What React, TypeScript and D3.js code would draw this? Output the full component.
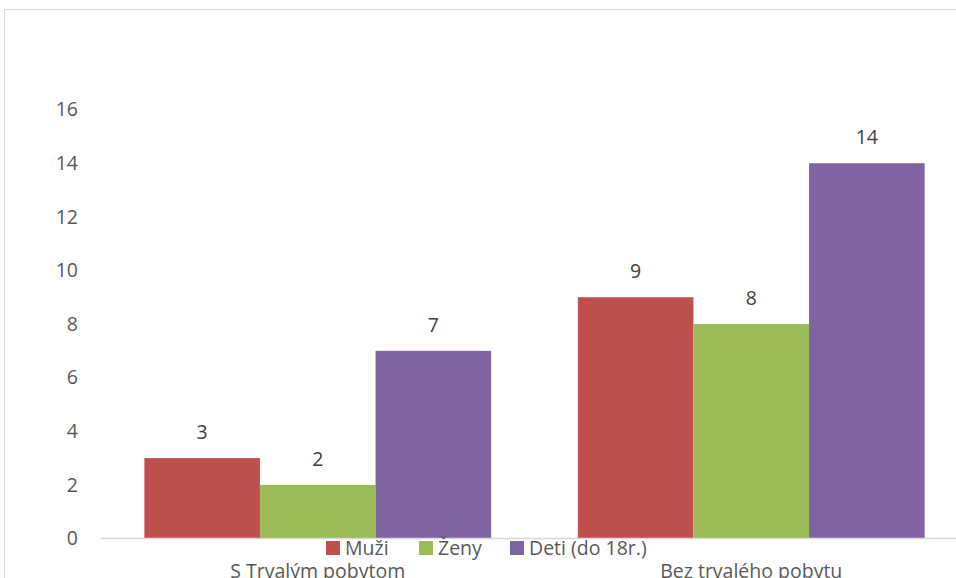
import React, { useEffect, useRef } from "react";
import * as d3 from "d3";

const categories = ["S Trvalým pobytom", "Bez trvalého pobytu"];
const seriesNames = ["Muži", "Ženy", "Deti (do 18r.)"];
const muzi = [3, 9];
const zeny = [2, 8];
const deti = [7, 14];
const yTicks = [0, 2, 4, 6, 8, 10, 12, 14, 16];
const colors = ["#C0504D", "#9BBB59", "#8064A2"];

const width = 956;
const height = 578;
const font = "'Open Sans', 'Noto Sans', sans-serif";

function App() {
  const svgRef = useRef<SVGSVGElement>(null);

  useEffect(() => {
    if (!svgRef.current) return;
    const svg = d3.select(svgRef.current);
    svg.selectAll("*").remove();

    const values = [muzi, zeny, deti];

    // chart area border (runs off the right and bottom)
    svg
      .append("rect")
      .attr("x", 4.5)
      .attr("y", 9.5)
      .attr("width", 1000)
      .attr("height", 700)
      .attr("fill", "white")
      .attr("stroke", "#d9d9d9")
      .attr("stroke-width", 1);

    const plotLeft = 101;
    const bandW = 433.5;
    const x0 = d3
      .scaleBand<string>()
      .domain(categories)
      .range([plotLeft, plotLeft + bandW * categories.length])
      .padding(0);

    // excel style gap width 75%
    const barW = x0.bandwidth() / (seriesNames.length + 0.75);
    const x1 = d3
      .scaleBand<string>()
      .domain(seriesNames)
      .range([barW * 0.375, x0.bandwidth() - barW * 0.375])
      .padding(0);

    const y = d3.scaleLinear().domain([0, 16]).range([538.5, 109.6]);

    // y tick labels
    svg
      .append("g")
      .selectAll("text")
      .data(yTicks)
      .enter()
      .append("text")
      .attr("x", 78)
      .attr("y", (d) => y(d))
      .attr("dy", "0.35em")
      .attr("text-anchor", "end")
      .style("font-family", font)
      .style("font-size", "19.5px")
      .style("fill", "#595959")
      .text((d) => d);

    // bars
    seriesNames.forEach((name, si) => {
      const g = svg.append("g");
      g.selectAll("rect")
        .data(values[si])
        .enter()
        .append("rect")
        .attr("x", (_, i) => (x0(categories[i]) as number) + (x1(name) as number))
        .attr("y", (d) => y(d))
        .attr("width", x1.bandwidth())
        .attr("height", (d) => y(0) - y(d))
        .attr("fill", colors[si]);

      g.selectAll("text")
        .data(values[si])
        .enter()
        .append("text")
        .attr(
          "x",
          (_, i) => (x0(categories[i]) as number) + (x1(name) as number) + x1.bandwidth() / 2
        )
        .attr("y", (d) => y(d) - 19)
        .attr("text-anchor", "middle")
        .style("font-family", font)
        .style("font-size", "19.5px")
        .style("fill", "#404040")
        .text((d) => d);
    });

    // x axis line
    svg
      .append("line")
      .attr("x1", plotLeft)
      .attr("x2", width)
      .attr("y1", y(0))
      .attr("y2", y(0))
      .attr("stroke", "#d9d9d9")
      .attr("stroke-width", 1.5);

    // category labels
    svg
      .append("g")
      .selectAll("text")
      .data(categories)
      .enter()
      .append("text")
      .attr("x", (d) => (x0(d) as number) + x0.bandwidth() / 2)
      .attr("y", 578)
      .attr("text-anchor", "middle")
      .style("font-family", font)
      .style("font-size", "19.5px")
      .style("fill", "#595959")
      .text((d) => d);

    // legend
    const legendX = [326, 419, 510];
    seriesNames.forEach((name, i) => {
      const lg = svg.append("g").attr("transform", `translate(${legendX[i]}, 541)`);
      lg.append("rect")
        .attr("width", 14)
        .attr("height", 14)
        .attr("fill", colors[i]);
      lg.append("text")
        .attr("x", 19)
        .attr("y", 14)
        .style("font-family", font)
        .style("font-size", "19.5px")
        .style("fill", "#595959")
        .text(name);
    });
  }, []);

  return (
    <svg
      ref={svgRef}
      width={width}
      height={height}
      style={{ position: "fixed", left: 0, top: 0, background: "white" }}
    ></svg>
  );
}

export default App;
